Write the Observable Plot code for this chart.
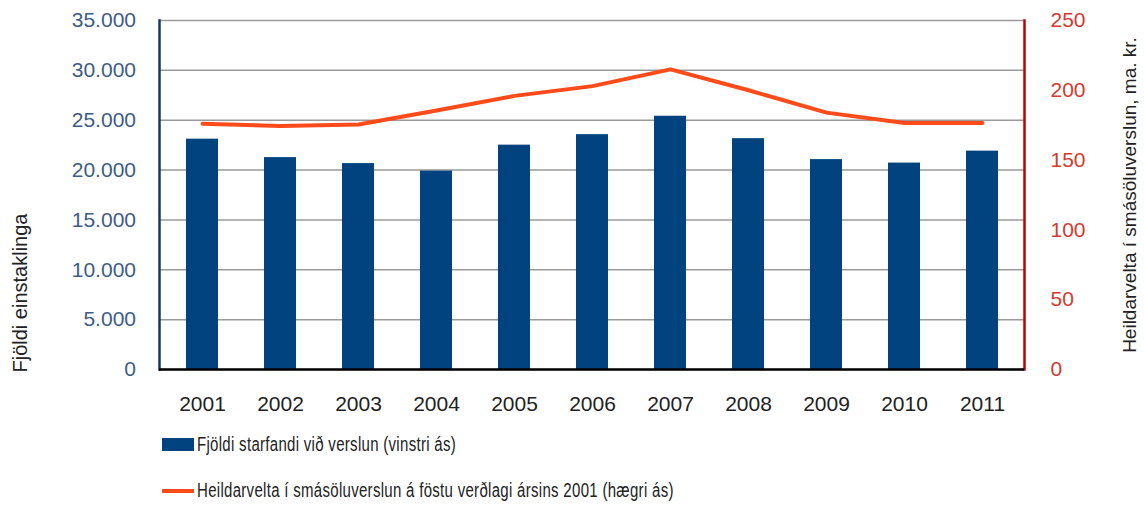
<!DOCTYPE html>
<html>
<head>
<meta charset="utf-8">
<script src="https://cdn.jsdelivr.net/npm/d3@7"></script>
<script src="https://cdn.jsdelivr.net/npm/@observablehq/plot@0.6"></script>
<style>
  body { margin: 0; background: #fff; font-family: "Liberation Sans", Arial, sans-serif; }
  #chart { position: relative; width: 1145px; }
  .legend { position: relative; width: 1145px; height: 88px; color: #222; font-size: 20px; }
  .item { position: absolute; left: 162px; display: flex; align-items: center; white-space: nowrap; }
  .item span.t { display: inline-block; transform: scaleX(0.75); transform-origin: left center; letter-spacing: 0.4px; }
  .sw-bar { width: 32px; height: 13px; background: #00437F; margin-right: 3px; }
  .sw-line { width: 32px; height: 4px; background: #FF4A1A; margin-right: 3px; }
</style>
</head>
<body>
<div id="chart"></div>
<div class="legend">
  <div class="item" style="top:13px"><span class="sw-bar"></span><span class="t">Fjöldi starfandi við verslun (vinstri ás)</span></div>
  <div class="item" style="top:59px"><span class="sw-line"></span><span class="t">Heildarvelta í smásöluverslun á föstu verðlagi ársins 2001 (hægri ás)</span></div>
</div>
<script>
const years = ["2001","2002","2003","2004","2005","2006","2007","2008","2009","2010","2011"];
const employees = [23100, 21250, 20650, 19900, 22500, 23550, 25400, 23150, 21050, 20700, 21900];
const turnover = [176, 174.5, 175.5, 185.5, 196, 203, 215, 200, 184, 176.5, 176.5];
const leftTicks = [0, 5000, 10000, 15000, 20000, 25000, 30000, 35000];
const rightTicks = [0, 50, 100, 150, 200, 250];
const leftMax = 35000, rightMax = 250;
const k = leftMax / rightMax;

const data = years.map((y, i) => ({year: y, emp: employees[i], turn: turnover[i]}));

const fmt = d => d3.format(",")(d).replace(/,/g, ".");

const chart = Plot.plot({
  width: 1145,
  height: 420,
  marginLeft: 159,
  marginRight: 121,
  marginTop: 20,
  marginBottom: 51,
  style: {fontFamily: "Liberation Sans, Arial, sans-serif", background: "#fff"},
  x: {domain: years, paddingInner: 0.59, paddingOuter: 0.295},
  y: {domain: [0, leftMax]},
  marks: [
    Plot.gridY(leftTicks, {stroke: "#9a9a9a", strokeOpacity: 1, strokeWidth: 1.5}),
    Plot.barY(data, {x: "year", y: "emp", fill: "#00437F"}),
    Plot.line(data, {x: "year", y: d => d.turn * k, stroke: "#FF4A1A", strokeWidth: 4, curve: "linear", strokeLinejoin: "round"}),
    Plot.axisY(leftTicks, {anchor: "left", tickSize: 0, tickPadding: 23.5, tickFormat: fmt, fontSize: 21,
      fill: "#3D5C86", label: null, style: {letterSpacing: "3.4px"}}),
    Plot.text(["Fjöldi einstaklinga"], {frameAnchor: "bottom-left", rotate: -90, textAnchor: "start",
      dx: -133, dy: 3, fontSize: 20, fill: "#222", text: d => d}),
    Plot.axisY(rightTicks.map(d => d * k), {anchor: "right", tickSize: 0, tickPadding: 26, tickFormat: d => Math.round(d / k),
      fontSize: 21, fill: "#D43A2F", label: "Heildarvelta í smásöluverslun, ma. kr.", labelAnchor: "center",
      labelArrow: "none", labelOffset: 111, style: {letterSpacing: "1px"}}),
    Plot.axisX({tickSize: 0, tickPadding: 27, fontSize: 21, fill: "#222", label: null, style: {letterSpacing: "0.8px"}}),
    Plot.frame({anchor: "left", stroke: "#17375E", strokeWidth: 2.5}),
    Plot.frame({anchor: "right", stroke: "#C00000", strokeWidth: 2.5}),
    Plot.ruleY([0], {stroke: "#000", strokeWidth: 2.5})
  ]
});
document.getElementById("chart").appendChild(chart);
chart.querySelectorAll("g[aria-label='y-axis label'] text").forEach(t => {
  t.setAttribute("font-size", "19");
  t.setAttribute("fill", "#222");
});
</script>
</body>
</html>
